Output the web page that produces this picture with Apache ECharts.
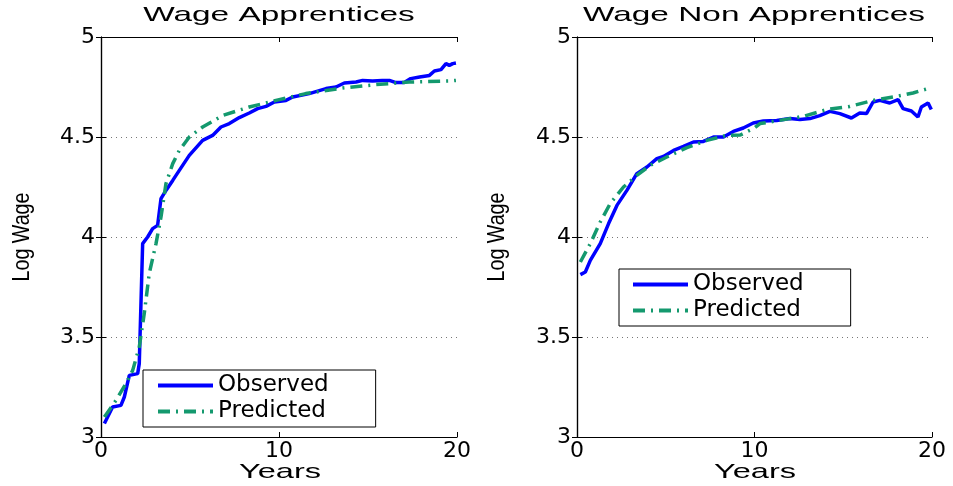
<!DOCTYPE html>
<html>
<head>
<meta charset="utf-8">
<script src="https://cdn.jsdelivr.net/npm/echarts@6/dist/echarts.min.js"></script>
<style>
  html, body { margin: 0; padding: 0; background: #fff; }
  #main { width: 953px; height: 486px; }
</style>
</head>
<body>
<div id="main"></div>
<script>
// Wage Apprentices - observed
const appObsYears = [0.19, 0.65, 1.12, 1.31, 1.59, 2.06, 2.15, 2.34, 2.62, 2.9, 3.18, 3.37, 3.65, 4.03, 4.4, 4.96, 5.71, 6.27, 6.74, 7.21, 7.77, 8.33, 8.8, 9.27, 9.74, 10.39, 10.77, 11.7, 12.64, 13.2, 13.67, 14.33, 14.7, 15.26, 15.8, 16.2, 16.57, 17.04, 17.4, 17.9, 18.45, 18.73, 19.1, 19.38, 19.57, 19.76, 19.94];
const appObsWage = [3.067, 3.15, 3.158, 3.2, 3.308, 3.317, 3.367, 3.967, 4.0, 4.042, 4.058, 4.192, 4.233, 4.283, 4.333, 4.408, 4.483, 4.508, 4.55, 4.567, 4.597, 4.62, 4.642, 4.653, 4.675, 4.683, 4.7, 4.717, 4.742, 4.75, 4.77, 4.775, 4.783, 4.78, 4.783, 4.783, 4.772, 4.772, 4.792, 4.8, 4.808, 4.83, 4.837, 4.867, 4.858, 4.867, 4.87];
// Wage Apprentices - predicted
const appPredYears = [0.19, 0.84, 1.4, 1.78, 2.15, 2.43, 2.71, 3.09, 3.37, 3.65, 4.03, 4.4, 4.96, 5.71, 6.84, 8.33, 9.83, 11.5, 13.58, 15.45, 17.32, 19.57, 19.94];
const appPredWage = [3.1, 3.183, 3.267, 3.333, 3.45, 3.617, 3.817, 3.967, 4.1, 4.267, 4.367, 4.433, 4.5, 4.55, 4.608, 4.65, 4.683, 4.717, 4.745, 4.762, 4.775, 4.78, 4.783];
// Wage Non Apprentices - observed
const nonObsYears = [0.19, 0.47, 0.75, 1.31, 1.78, 2.25, 2.81, 3.37, 3.94, 4.5, 4.87, 5.44, 6.0, 6.56, 7.12, 7.69, 8.25, 8.81, 9.37, 9.93, 10.5, 11.25, 12.0, 12.56, 13.12, 13.68, 14.25, 14.81, 15.46, 15.93, 16.31, 16.68, 17.06, 17.62, 18.09, 18.37, 18.84, 19.21, 19.4, 19.78, 19.96];
const nonObsWage = [3.812, 3.825, 3.883, 3.967, 4.067, 4.158, 4.233, 4.317, 4.35, 4.392, 4.403, 4.433, 4.453, 4.475, 4.478, 4.5, 4.5, 4.528, 4.545, 4.57, 4.58, 4.583, 4.592, 4.587, 4.592, 4.607, 4.628, 4.617, 4.595, 4.62, 4.617, 4.675, 4.683, 4.67, 4.687, 4.642, 4.63, 4.6, 4.65, 4.67, 4.637];
// Wage Non Apprentices - predicted
const nonPredYears = [0.19, 0.75, 1.31, 1.87, 2.62, 3.37, 4.12, 5.06, 6.19, 7.31, 8.43, 9.2, 10.0, 10.31, 11.4, 12.75, 14.06, 15.37, 16.68, 17.99, 18.93, 19.96];
const nonPredWage = [3.875, 3.967, 4.075, 4.167, 4.25, 4.308, 4.358, 4.4, 4.447, 4.483, 4.508, 4.51, 4.545, 4.567, 4.583, 4.603, 4.637, 4.653, 4.683, 4.703, 4.72, 4.747];

const titles = ['Wage Apprentices', 'Wage Non Apprentices'];
const xTicks = { min: 0, max: 20, interval: 10 };
const yTicks = { min: 3, max: 5, interval: 0.5 };

const pairs = (xs, ys) => xs.map((x, i) => [x, ys[i]]);

const tickFont = { fontFamily: 'DejaVu Sans', fontSize: 22, color: '#000' };
const grids = [
  { left: 101, top: 37, width: 356, height: 400 },
  { left: 577, top: 37, width: 355, height: 400 }
];

function xAxes(gi) {
  return [
    {
      gridIndex: gi, type: 'value', position: 'bottom', ...xTicks,
      axisLine: { lineStyle: { color: '#000', width: 1.2 } },
      axisTick: { inside: true, length: 5, lineStyle: { color: '#000' } },
      axisLabel: { ...tickFont, margin: 3, showMinLabel: true, showMaxLabel: true },
      splitLine: { show: false }
    },
    {
      gridIndex: gi, type: 'value', position: 'top', ...xTicks,
      axisLine: { lineStyle: { color: '#000', width: 1.2 } },
      axisTick: { inside: true, length: 5, lineStyle: { color: '#000' } },
      axisLabel: { show: false },
      splitLine: { show: false }
    }
  ];
}

function yAxes(gi) {
  return [
    {
      gridIndex: gi, type: 'value', position: 'left', ...yTicks,
      axisLine: { show: true, lineStyle: { color: '#000', width: 1.2 } },
      axisTick: { show: true, inside: true, length: 5, lineStyle: { color: '#000' } },
      axisLabel: { ...tickFont, margin: 6 },
      splitLine: { show: true, lineStyle: { color: '#777', type: [1, 4], width: 1 } }
    },
    {
      gridIndex: gi, type: 'value', position: 'right', ...yTicks,
      axisLine: { show: true, lineStyle: { color: '#000', width: 1.2 } },
      axisTick: { show: true, inside: true, length: 5, lineStyle: { color: '#000' } },
      axisLabel: { show: false },
      splitLine: { show: false }
    }
  ];
}

const obsStyle = { color: '#0000ff', width: 3.5 };
const predStyle = { color: '#14996e', width: 3.5, type: [12, 6, 2, 6] };

function lineSeries(name, data, axisIdx, style) {
  return {
    name: name, type: 'line', data: data,
    xAxisIndex: axisIdx, yAxisIndex: axisIdx,
    symbol: 'none', showSymbol: false,
    itemStyle: { color: style.color },
    lineStyle: style
  };
}

function legendAt(left, top, padding) {
  return {
    orient: 'vertical', left: left, top: top,
    data: ['Observed', 'Predicted'],
    itemWidth: 55, itemHeight: 12, itemGap: 3,
    padding: padding,
    itemStyle: { opacity: 0 },
    lineStyle: { width: 4 },
    backgroundColor: '#fff', borderColor: '#000', borderWidth: 1,
    textStyle: { fontFamily: 'DejaVu Sans', fontSize: 23, color: '#000', lineHeight: 22 },
    selectedMode: false, z: 10
  };
}

function label(text, x, y, size, sx, rot) {
  return {
    type: 'text', x: x, y: y, scaleX: sx, rotation: rot || 0,
    style: {
      text: text, fill: '#000',
      font: size + 'px "Liberation Sans", Arial, sans-serif',
      textAlign: 'center', textVerticalAlign: 'middle'
    }
  };
}

const myChart = echarts.init(document.getElementById('main'));
const option = {
  animation: false,
  backgroundColor: '#fff',
  grid: grids,
  xAxis: [...xAxes(0), ...xAxes(1)],
  yAxis: [...yAxes(0), ...yAxes(1)],
  legend: [
    legendAt(143, 370, [4, 47, 4, 13]),
    legendAt(619, 269, [4, 47, 4, 12])
  ],
  graphic: [
    label(titles[0], 279, 15, 21, 1.59),
    label(titles[1], 754, 15, 21, 1.59),
    label('Years', 280, 472, 21, 1.55),
    label('Years', 755, 472, 21, 1.55),
    label('Log Wage', 22, 237, 24, 0.82, Math.PI / 2),
    label('Log Wage', 497, 237, 24, 0.82, Math.PI / 2)
  ],
  series: [
    lineSeries('Observed', pairs(appObsYears, appObsWage), 0, obsStyle),
    lineSeries('Predicted', pairs(appPredYears, appPredWage), 0, predStyle),
    lineSeries('Observed', pairs(nonObsYears, nonObsWage), 2, obsStyle),
    lineSeries('Predicted', pairs(nonPredYears, nonPredWage), 2, predStyle)
  ]
};
myChart.setOption(option);
</script>
</body>
</html>
